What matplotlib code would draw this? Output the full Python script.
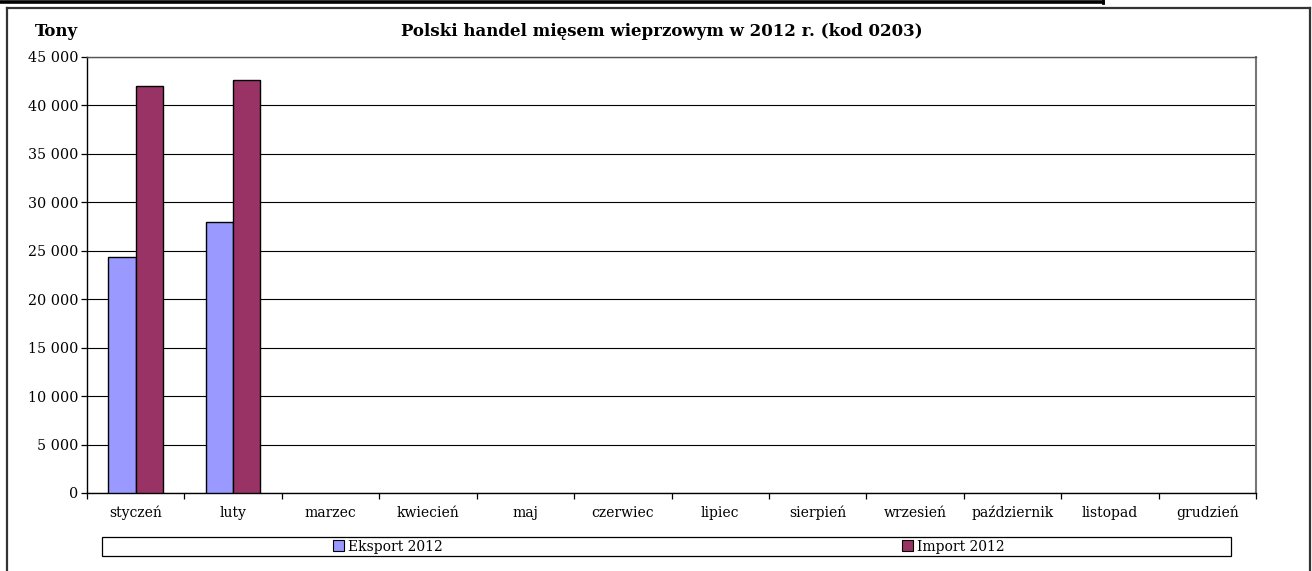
import numpy as np
import matplotlib
matplotlib.use("Agg")
import matplotlib.pyplot as plt
from matplotlib.patches import Rectangle, Patch
from matplotlib.lines import Line2D
from matplotlib.ticker import FuncFormatter, FixedLocator

months = ["styczeń", "luty", "marzec", "kwiecień", "maj", "czerwiec", "lipiec",
          "sierpień", "wrzesień", "październik", "listopad", "grudzień"]
eksport = [24400, 28000, np.nan, np.nan, np.nan, np.nan, np.nan, np.nan, np.nan, np.nan, np.nan, np.nan]
imp = [42000, 42600, np.nan, np.nan, np.nan, np.nan, np.nan, np.nan, np.nan, np.nan, np.nan, np.nan]
series_names = ["Eksport 2012", "Import 2012"]
y_ticks = [0, 5000, 10000, 15000, 20000, 25000, 30000, 35000, 40000, 45000]
title = "Polski handel mięsem wieprzowym w 2012 r. (kod 0203)"
y_unit = "Tony"

plt.rcParams['font.family'] = ['DejaVu Serif']

W, H = 1312, 571
fig = plt.figure(figsize=(W / 100, H / 100), dpi=100)
fig.patch.set_facecolor("white")

def fx(px):
    return px / W

def fy(py):
    return 1 - py / H

# axes placement (pixel coords from reference)
left, right, top, bottom = 87, 1256, 57, 493
ax = fig.add_axes([fx(left), fy(bottom), fx(right - left), (bottom - top) / H])

x = np.arange(len(months))
bw = 0.28
c_exp = "#9999FF"
c_imp = "#993366"
ax.bar(x - bw / 2, eksport, bw, color=c_exp, edgecolor="black", linewidth=1.0, zorder=3)
ax.bar(x + bw / 2, imp, bw, color=c_imp, edgecolor="black", linewidth=1.0, zorder=3)

ax.set_xlim(-0.5, len(months) - 0.5)
ax.set_ylim(0, 45000)
ax.set_yticks(y_ticks)
ax.yaxis.set_major_formatter(FuncFormatter(lambda v, p: f"{int(v):,}".replace(",", " ")))
ax.grid(axis="y", color="black", linewidth=0.8, zorder=0)
ax.set_axisbelow(True)

ax.set_xticks(x)
ax.set_xticklabels(months)
ax.xaxis.set_minor_locator(FixedLocator(np.arange(-0.5, len(months), 1.0)))
ax.tick_params(axis="x", which="major", length=0, pad=17.5, labelsize=10)
ax.tick_params(axis="x", which="minor", length=4, width=0.9, direction="out", color="black")
ax.tick_params(axis="y", length=4, width=0.9, direction="out", pad=2, labelsize=10.3)
for lab in ax.get_xticklabels():
    lab.set_verticalalignment("baseline")

for s in ["left", "bottom"]:
    ax.spines[s].set_color("black")
    ax.spines[s].set_linewidth(1.0)
ax.spines["top"].set_color("#555555")
ax.spines["right"].set_color("#777777")
ax.spines["top"].set_linewidth(1.0)
ax.spines["right"].set_linewidth(1.5)

# title & unit label
fig.text(fx(662), fy(32), title, ha="center", va="center", fontsize=12, fontweight="bold")
fig.text(fx(35), fy(32), y_unit, ha="left", va="center", fontsize=12, fontweight="bold")

# legend box
fig.patches.append(Rectangle((fx(102), fy(556)), fx(1231 - 102), (556 - 537) / H,
                             transform=fig.transFigure, facecolor="white",
                             edgecolor="black", linewidth=0.9, zorder=1))
h1 = Patch(facecolor=c_exp, edgecolor="black", linewidth=0.8)
h2 = Patch(facecolor=c_imp, edgecolor="black", linewidth=0.8)
lg1 = fig.legend([h1], [series_names[0]], loc="center", bbox_to_anchor=(fx(388), fy(546.5)),
                 frameon=False, fontsize=10, handlelength=0.8, handleheight=0.8,
                 handletextpad=0.3, borderpad=0)
lg2 = fig.legend([h2], [series_names[1]], loc="center", bbox_to_anchor=(fx(953), fy(546.5)),
                 frameon=False, fontsize=10, handlelength=0.8, handleheight=0.8,
                 handletextpad=0.3, borderpad=0)

# outer chart frame
frame_col = "#333333"
fig.add_artist(Line2D([fx(7), fx(7)], [fy(8), fy(H + 5)], transform=fig.transFigure,
                      color=frame_col, linewidth=1.6))
fig.add_artist(Line2D([fx(7), fx(1310)], [fy(8), fy(8)], transform=fig.transFigure,
                      color=frame_col, linewidth=1.6))
fig.add_artist(Line2D([fx(1310), fx(1310)], [fy(8), fy(H + 5)], transform=fig.transFigure,
                      color=frame_col, linewidth=1.6))
# remnant table border at the very top
fig.add_artist(Line2D([fx(0), fx(1103)], [fy(1.5), fy(1.5)], transform=fig.transFigure,
                      color="black", linewidth=2.6))
fig.add_artist(Line2D([fx(1103), fx(1103)], [fy(0), fy(3)], transform=fig.transFigure,
                      color="black", linewidth=2.0))

fig.savefig("out.png", dpi=100, facecolor="white")
